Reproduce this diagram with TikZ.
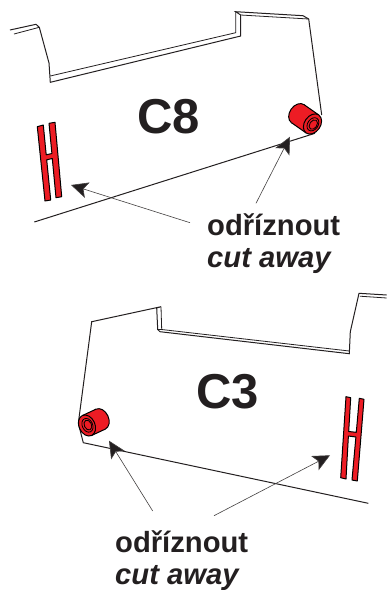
\documentclass[tikz,border=0pt]{standalone}
\usepackage{fontspec}
\setmainfont{Liberation Sans}
\usetikzlibrary{arrows.meta}
\definecolor{ink}{HTML}{231F20}
\definecolor{partred}{HTML}{ED1C24}
\tikzset{
  frame/.style={draw=ink,line width=1pt,line join=miter},
  thin frame/.style={draw=ink,line width=.8pt},
  pointer/.style={draw=ink!85,line width=.6pt,-{Stealth[length=17pt,width=16pt,inset=4pt,fill=ink]}},
  bigtitle/.style={font=\bfseries\fontsize{49}{49}\selectfont,text=ink,inner sep=0pt,anchor=base west},
  cuttext/.style={font=\bfseries\fontsize{29.2}{29.2}\selectfont,text=ink,inner sep=0pt,anchor=base west},
  redpart/.style={fill=partred,draw=black,line width=1pt,line join=round},
}
\newcommand{\sleeve}[4]{% x, y, rotation, length
  \begin{scope}[shift={(#1,#2)},rotate=#3]
    \path[redpart] (#4,0) ellipse [x radius=8,y radius=11];
    \fill[partred] (0,-11) rectangle (#4,11);
    \draw[black,line width=1pt] (0,-11) -- (#4,-11) (0,11) -- (#4,11);
    \path[redpart] (0,0) ellipse [x radius=8,y radius=11];
    \draw[black,line width=.8pt] (.5,0) ellipse [x radius=5.2,y radius=7.2];
    \draw[black,line width=.8pt] (1,0) ellipse [x radius=3.6,y radius=5.2];
  \end{scope}}
\begin{document}
\begin{tikzpicture}[x=1pt,y=-1pt]
\useasboundingbox (0,0) rectangle (387,590);
\fill[white] (0,0) rectangle (387,590);
% --- C8 ---
\draw[frame] (10,30) -- (36,24.3) -- (39.3,27.3) -- (49,63) -- (50.3,82.3) -- (240.7,36) -- (240.7,15) -- (235.7,11.7) -- (303,15.7) -- (308.7,19) -- (321.7,115);
\draw[thin frame] (14,34) -- (39.3,27.3);
\draw[thin frame] (50.3,76) -- (235.7,32.7) -- (235.7,11.7);
\draw[thin frame] (240.7,15) -- (308.7,19);
\draw[frame] (315,133.3) -- (34.3,222);
\draw[redpart] (37.3,126.7) -- (43.3,125) -- (46.2,154.8) -- (51.9,153.5) -- (49,123.3) -- (55,122.3) -- (61.7,196.7) -- (56,197.7) -- (52.3,158.5) -- (46.7,159.8) -- (50.7,200) -- (45,201) -- cycle;
\sleeve{312.5}{124}{-35}{-18}
\node[bigtitle] (c8) at (137,133) {C8};
\node[cuttext] (cut1) at (207,235) {odříznout};
\node[cuttext] (away1) at (207,267) {\itshape cut away};
\coordinate (t1a) at (190,222.7);
\coordinate (h1a) at (71,185);
\coordinate (t1b) at (256,203.3);
\coordinate (h1b) at (290,136.7);
\draw[pointer] (t1a) -- (h1a);
\draw[pointer] (t1b) -- (h1b);
% --- C3 ---
\draw[frame] (386.7,295) -- (359,293.3) -- (350.3,331.7) -- (349.3,353.7) -- (160,331.7) -- (157.7,329.5) -- (156.7,308) -- (161,306.7) -- (91.7,321.7) -- (78.3,423.3) -- (83.3,442.7) -- (368.3,503.3);
\draw[thin frame] (360,296.2) -- (386.7,298);
\draw[thin frame] (161,306.7) -- (161.7,329.5) -- (349.3,351);
\draw[thin frame] (157.7,329.5) -- (161.7,329.5);
\draw[redpart] (346,396.7) -- (350.7,397.7) -- (348.7,431.5) -- (356.3,432.3) -- (359.3,398.3) -- (364,399.3) -- (357.3,481) -- (352,480) -- (355.9,437) -- (348.4,436) -- (346,479) -- (340.7,477.7) -- cycle;
\sleeve{87}{425.5}{25}{15}
\node[bigtitle] (c3) at (196,408) {C3};
\node[cuttext] (cut2) at (115,552) {odříznout};
\node[cuttext] (away2) at (115,584) {\itshape cut away};
\coordinate (t2a) at (152.7,511);
\coordinate (h2a) at (109,440.7);
\coordinate (t2b) at (214,515.7);
\coordinate (h2b) at (330,455.3);
\draw[pointer] (t2a) -- (h2a);
\draw[pointer] (t2b) -- (h2b);
\end{tikzpicture}
\end{document}
